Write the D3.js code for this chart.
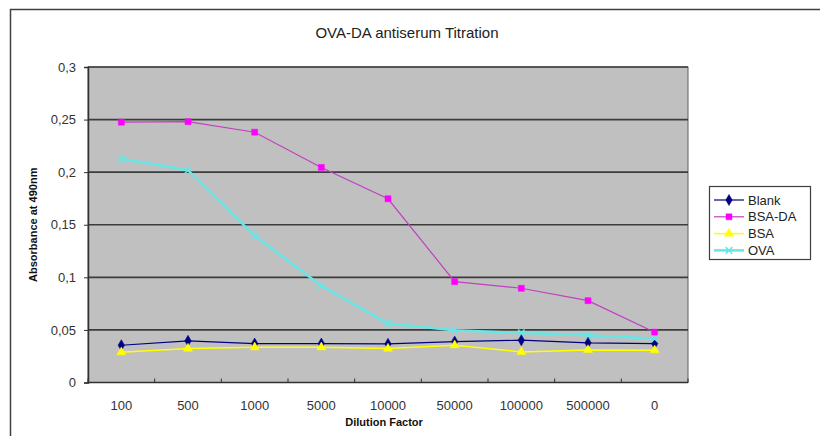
<!DOCTYPE html>
<html>
<head>
<meta charset="utf-8">
<script src="https://cdn.jsdelivr.net/npm/d3@7"></script>
<style>
  html, body { margin: 0; padding: 0; background: #fff; }
  svg { display: block; }
  text { font-family: "Liberation Sans", Arial, sans-serif; }
</style>
</head>
<body>
<svg id="chart" width="820" height="436"></svg>
<script>
// Dilution series (x categories)
const dilutions = ["100", "500", "1000", "5000", "10000", "50000", "100000", "500000", "0"];

// Absorbance readings at 490 nm for each coating
const blank = [0.0354, 0.0396, 0.0370, 0.0370, 0.0367, 0.0389, 0.0402, 0.0377, 0.0370];
const bsaDa = [0.2475, 0.2480, 0.2380, 0.2045, 0.1747, 0.0959, 0.0896, 0.0778, 0.0478];
const bsa   = [0.0288, 0.0323, 0.0335, 0.0335, 0.0323, 0.0354, 0.0291, 0.0310, 0.0307];
const ova   = [0.2127, 0.2019, 0.1395, 0.0920, 0.0560, 0.0497, 0.0472, 0.0449, 0.0415];

const yTicks = [0, 0.05, 0.1, 0.15, 0.2, 0.25, 0.3];
const yTickLabels = ["0", "0,05", "0,1", "0,15", "0,2", "0,25", "0,3"];

const series = [
  { name: "Blank",  values: blank, line: "#000080", marker: "#000080", symbol: d3.symbolDiamond,  width: 1.2 },
  { name: "BSA-DA", values: bsaDa, line: "#c040c0", marker: "#ff00ff", symbol: d3.symbolSquare,   width: 1.2 },
  { name: "BSA",    values: bsa,   line: "#ffff00", marker: "#ffff00", symbol: d3.symbolTriangle, width: 1.5 },
  { name: "OVA",    values: ova,   line: "#66e6e6", marker: "#66e6e6", symbol: d3.symbolX,        width: 2.5 }
];

const svg = d3.select("#chart");

// Outer chart frame
svg.append("rect")
  .attr("x", 10.5).attr("y", 9.5).attr("width", 830).attr("height", 450)
  .attr("fill", "#fff").attr("stroke", "#404040").attr("stroke-width", 1.5);

const plot = { left: 88, top: 67, right: 688, bottom: 382.5 };

const x = d3.scaleBand().domain(dilutions).range([plot.left, plot.right]).padding(0);
const y = d3.scaleLinear().domain([0, 0.3]).range([plot.bottom, plot.top]);

// Plot area background
svg.append("rect")
  .attr("x", plot.left).attr("y", plot.top)
  .attr("width", plot.right - plot.left).attr("height", plot.bottom - plot.top)
  .attr("fill", "#c0c0c0").attr("stroke", "#606060").attr("stroke-width", 1);

// Horizontal gridlines
svg.append("g")
  .selectAll("line")
  .data(yTicks.filter(t => t > 0))
  .join("line")
  .attr("x1", plot.left).attr("x2", plot.right)
  .attr("y1", d => y(d)).attr("y2", d => y(d))
  .attr("stroke", "#3c3c3c").attr("stroke-width", 1.6);

// Y axis
const yAxis = d3.axisLeft(y)
  .tickValues(yTicks)
  .tickSize(4)
  .tickPadding(8)
  .tickFormat((d, i) => yTickLabels[i]);
const gy = svg.append("g").attr("transform", `translate(${plot.left},0)`).call(yAxis);
gy.select(".domain").attr("stroke", "#303030").attr("stroke-width", 1.5);
gy.selectAll(".tick line").attr("stroke", "#303030");
gy.selectAll(".tick text").attr("font-size", 13).attr("fill", "#333");

// X axis: labels centred in each band, tick marks on band boundaries pointing inward
const gx = svg.append("g").attr("transform", `translate(0,${plot.bottom})`);
gx.append("line")
  .attr("x1", plot.left).attr("x2", plot.right)
  .attr("stroke", "#303030").attr("stroke-width", 1.5);
const boundaries = dilutions.map(d => x(d)).concat([x(dilutions[dilutions.length - 1]) + x.bandwidth()]);
gx.selectAll(".bt")
  .data(boundaries)
  .join("line")
  .attr("class", "bt")
  .attr("x1", d => d).attr("x2", d => d)
  .attr("y1", 0).attr("y2", -4)
  .attr("stroke", "#303030");
gx.selectAll(".xl")
  .data(dilutions)
  .join("text")
  .attr("class", "xl")
  .attr("x", d => x(d) + x.bandwidth() / 2)
  .attr("y", 27)
  .attr("text-anchor", "middle")
  .attr("font-size", 13)
  .attr("fill", "#333")
  .text(d => d);

// Series lines and markers
const cx = d => x(d) + x.bandwidth() / 2;
series.forEach(s => {
  const line = d3.line()
    .x((v, i) => cx(dilutions[i]))
    .y(v => y(v));
  svg.append("path")
    .datum(s.values)
    .attr("fill", "none")
    .attr("stroke", s.line)
    .attr("stroke-width", s.width)
    .attr("d", line);
  const sym = d3.symbol().type(s.symbol).size(s.symbol === d3.symbolX ? 30 : 36);
  svg.append("g")
    .selectAll("path")
    .data(s.values)
    .join("path")
    .attr("transform", (v, i) => `translate(${cx(dilutions[i])},${y(v)})`)
    .attr("d", sym)
    .attr("fill", s.symbol === d3.symbolX ? "none" : s.marker)
    .attr("stroke", s.marker)
    .attr("stroke-width", s.symbol === d3.symbolX ? 1.5 : 0.5);
});

// Title and axis titles
svg.append("text")
  .attr("x", 407).attr("y", 38)
  .attr("text-anchor", "middle")
  .attr("font-size", 15)
  .attr("fill", "#222")
  .text("OVA-DA antiserum Titration");

svg.append("text")
  .attr("x", plot.left + (plot.right - plot.left) / 2 - 4).attr("y", 426)
  .attr("text-anchor", "middle")
  .attr("font-size", 11)
  .attr("font-weight", "bold")
  .attr("fill", "#111")
  .text("Dilution Factor");

svg.append("text")
  .attr("transform", `translate(37,${(plot.top + plot.bottom) / 2}) rotate(-90)`)
  .attr("text-anchor", "middle")
  .attr("font-size", 11)
  .attr("font-weight", "bold")
  .attr("fill", "#111")
  .text("Absorbance at 490nm");

// Legend
const legend = svg.append("g");
legend.append("rect")
  .attr("x", 709.5).attr("y", 186.5).attr("width", 101).attr("height", 73)
  .attr("fill", "#fff").attr("stroke", "#404040").attr("stroke-width", 1.2);
series.forEach((s, i) => {
  const ly = 200 + i * 16.8;
  legend.append("line")
    .attr("x1", 714).attr("x2", 744).attr("y1", ly).attr("y2", ly)
    .attr("stroke", s.line).attr("stroke-width", s.width);
  legend.append("path")
    .attr("transform", `translate(729,${ly})`)
    .attr("d", d3.symbol().type(s.symbol).size(s.symbol === d3.symbolX ? 30 : 36))
    .attr("fill", s.symbol === d3.symbolX ? "none" : s.marker)
    .attr("stroke", s.marker)
    .attr("stroke-width", s.symbol === d3.symbolX ? 1.5 : 0.5);
  legend.append("text")
    .attr("x", 748).attr("y", ly + 4.5)
    .attr("font-size", 13)
    .attr("fill", "#222")
    .text(s.name);
});
</script>
</body>
</html>
